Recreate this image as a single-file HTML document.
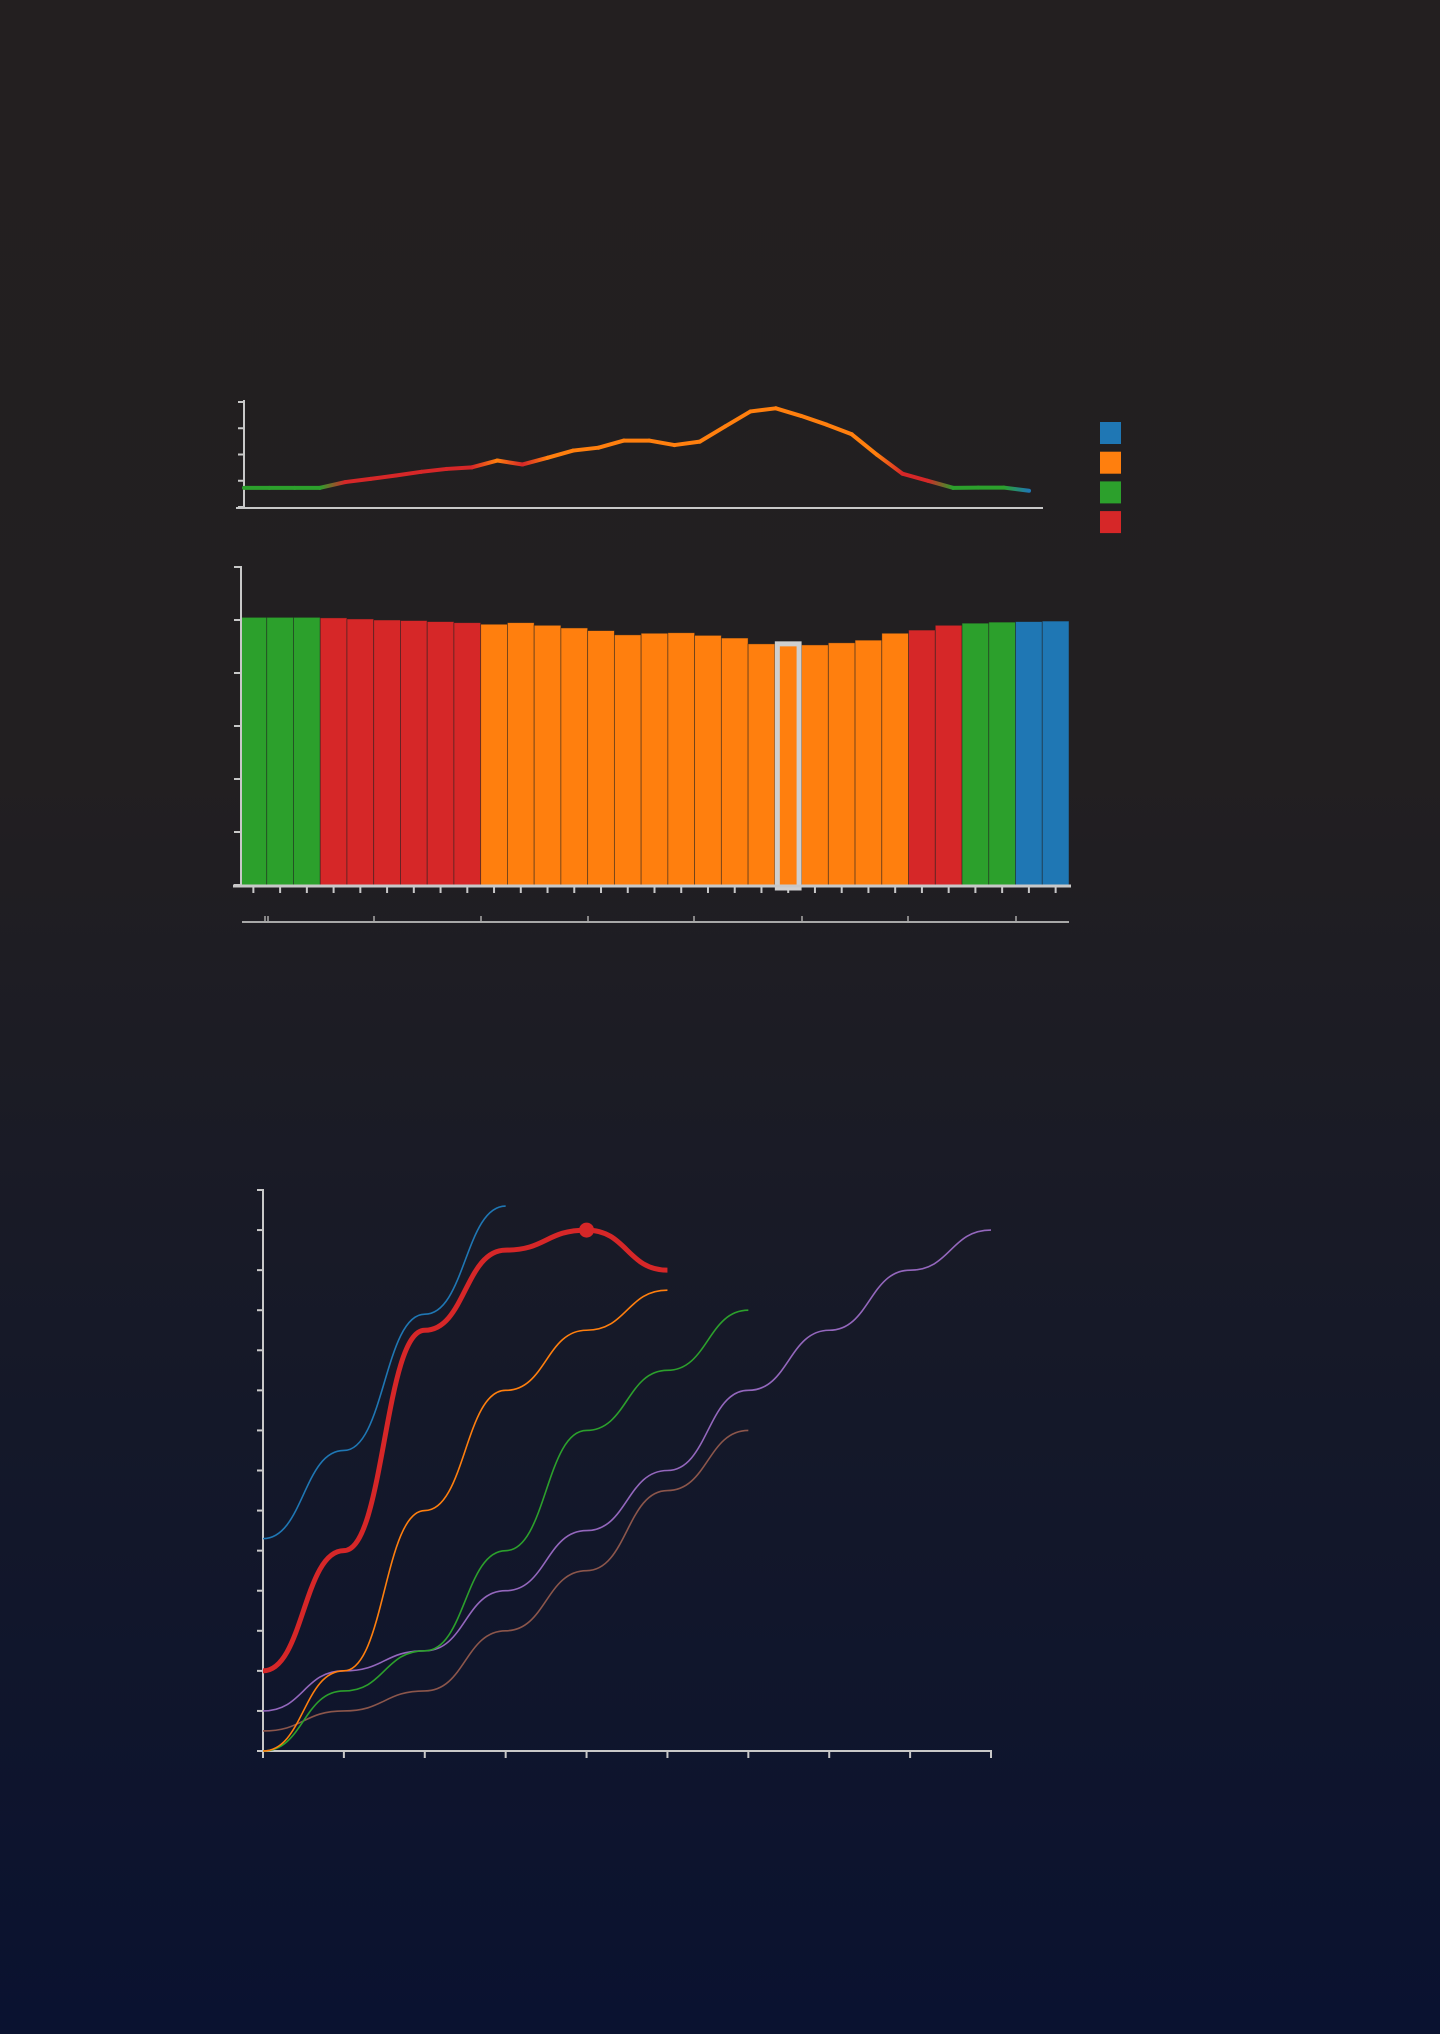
<!DOCTYPE html>
<html><head><meta charset="utf-8"><style>
html,body{margin:0;padding:0}
body{width:1440px;height:2034px;background:linear-gradient(#231f20 0%,#221f21 38%,#141829 70%,#0a1230 100%);font-family:"Liberation Sans",sans-serif;overflow:hidden}
svg{position:absolute;left:0;top:0}
</style></head><body>
<svg id="chart" width="1440" height="2034"></svg>
<script>
// ---- line chart data ----
const lineValues=[0.73,0.73,0.73,0.73,0.95,1.07,1.2,1.34,1.45,1.51,1.77,1.62,1.88,2.15,2.26,2.53,2.53,2.36,2.49,3.07,3.64,3.76,3.47,3.14,2.77,1.99,1.27,1.0,0.73,0.74,0.74,0.62];
const lineCats=["g","g","g","g","r","r","r","r","r","r","o","r","o","o","o","o","o","o","o","o","o","o","o","o","o","o","r","r","g","g","g","b"];
const lineTicks=[0,1,2,3,4];
// ---- bar chart data ----
const barValues=[5.05,5.05,5.05,5.04,5.02,5.0,4.99,4.97,4.95,4.92,4.95,4.9,4.85,4.8,4.72,4.75,4.76,4.71,4.66,4.55,4.55,4.53,4.57,4.62,4.75,4.81,4.9,4.94,4.96,4.97,4.98];
const barCats=["g","g","g","r","r","r","r","r","r","o","o","o","o","o","o","o","o","o","o","o","o","o","o","o","o","r","r","g","g","b","b"];
const barTicks=[0,1,2,3,4,5,6];
const highlightIndex=20;
const legendCats=["b","o","g","r"];
// ---- curve chart data ----
const curveBlue=[5.3,7.5,10.9,13.6];
const curveRed=[2.0,5.0,10.5,12.5,13.0,12.0];
const curveOrange=[0,2.0,6.0,9.0,10.5,11.5];
const curveGreen=[0,1.5,2.5,5.0,8.0,9.5,11.0];
const curvePurple=[1.0,2.0,2.5,4.0,5.5,7.0,9.0,10.5,12.0,13.0];
const curveBrown=[0.5,1.0,1.5,3.0,4.5,6.5,8.0];
const curveXTicks=[0,1,2,3,4,5,6,7,8,9];
const curveYTicks=[0,1,2,3,4,5,6,7,8,9,10,11,12,13,14];
const redPeakIndex=4;

const COL={b:"#1f77b4",o:"#ff7f0e",g:"#2ca02c",r:"#d62728"};
const NS="http://www.w3.org/2000/svg";
const svg=document.getElementById("chart");
function mk(tag,attrs,parent){const e=document.createElementNS(NS,tag);for(const k in attrs)e.setAttribute(k,attrs[k]);(parent||svg).appendChild(e);return e;}
const AX="#c8c8c8";
const defs=mk("defs",{});

// ===== line chart =====
const g1=mk("g",{});


const lx=i=>244+i*(1029-244)/(lineValues.length-1);
const ly=v=>507-v*(507-402)/4;
const yax1=mk("line",{x1:244,y1:400,x2:244,y2:508,stroke:AX,"stroke-width":2},g1);


lineTicks.forEach(t=>{const tk=mk("line",{x1:238,x2:244,y1:ly(t),y2:ly(t),stroke:AX,"stroke-width":2},g1);

});
const xax1=mk("line",{x1:236,y1:508,x2:1043,y2:508,stroke:AX,"stroke-width":2},g1);


for(let i=0;i<lineValues.length-1;i++){
  const id="lg"+i;
  const gr=mk("linearGradient",{id:id,gradientUnits:"userSpaceOnUse",x1:lx(i),y1:0,x2:lx(i+1),y2:0},defs);
  mk("stop",{offset:"0",["stop-color"]:COL[lineCats[i]]},gr);
  mk("stop",{offset:"1",["stop-color"]:COL[lineCats[i+1]]},gr);
  const seg=mk("line",{x1:lx(i),y1:ly(lineValues[i]),x2:lx(i+1),y2:ly(lineValues[i+1]),stroke:"url(#"+id+")","stroke-width":4,"stroke-linecap":"round"},g1);
  
  
}
legendCats.forEach((c,i)=>{const r=mk("rect",{x:1100,y:422+i*29.7,width:21,height:22,fill:COL[c]},g1);

});

// ===== bar chart =====
const g2=mk("g",{});


const bx0=240,bx1=1069,bw=(bx1-bx0)/barValues.length;
const by=v=>885-v*(885-567)/6;
barValues.forEach((v,i)=>{
  const r=mk("rect",{x:bx0+i*bw,y:by(v),width:bw,height:885-by(v),fill:COL[barCats[i]],stroke:"#222","stroke-width":0.8,"stroke-opacity":0.6},g2);
  
  
  const t=mk("line",{x1:bx0+(i+0.5)*bw,x2:bx0+(i+0.5)*bw,y1:886,y2:893,stroke:AX,"stroke-width":2},g2);
  
  
});
const hv=barValues[highlightIndex];
const hl=mk("rect",{x:bx0+highlightIndex*bw+2.5,y:by(hv),width:bw-5,height:885-by(hv)+3,fill:"none",stroke:"#cfcfcf","stroke-width":5},g2);


const yax2=mk("line",{x1:241,y1:566,x2:241,y2:886,stroke:AX,"stroke-width":2},g2);


barTicks.forEach(t=>{const tk=mk("line",{x1:234,x2:241,y1:by(t),y2:by(t),stroke:AX,"stroke-width":2},g2);

});
const xax2=mk("line",{x1:233,y1:886,x2:1071,y2:886,stroke:AX,"stroke-width":3},g2);


const brush=mk("line",{x1:242,y1:922,x2:1069,y2:922,stroke:"#a8a8a8","stroke-width":2},g2);


[265,268,374,481,588,694,802,908,1016].forEach(x=>{const tk=mk("line",{x1:x,x2:x,y1:916,y2:922,stroke:"#a8a8a8","stroke-width":1.5},g2);

});

// ===== curve chart =====
const g3=mk("g",{});


const cx=i=>263+i*(991-263)/9;
const cy=v=>1751-v*(1751-1190)/14;
const yax3=mk("line",{x1:263,y1:1189,x2:263,y2:1752,stroke:AX,"stroke-width":2},g3);


curveYTicks.forEach(t=>{const tk=mk("line",{x1:257,x2:263,y1:cy(t),y2:cy(t),stroke:AX,"stroke-width":2},g3);

});
const xax3=mk("line",{x1:262,y1:1751,x2:992,y2:1751,stroke:AX,"stroke-width":2},g3);


curveXTicks.forEach(t=>{const tk=mk("line",{x1:cx(t),x2:cx(t),y1:1751,y2:1758,stroke:AX,"stroke-width":2},g3);

});
function bump(arr){let d="M"+cx(0)+","+cy(arr[0]);for(let i=1;i<arr.length;i++){const xa=cx(i-1),xb=cx(i),m=(xa+xb)/2;d+=" C"+m+","+cy(arr[i-1])+" "+m+","+cy(arr[i])+" "+xb+","+cy(arr[i]);}return d;}
[["curve-brown",curveBrown,"#8c564b",1.6],["curve-purple",curvePurple,"#9467bd",1.6],["curve-green",curveGreen,"#2ca02c",1.6],["curve-orange",curveOrange,"#ff7f0e",1.6],["curve-blue",curveBlue,"#1f77b4",1.6],["curve-red-highlight",curveRed,"#d62728",5]].forEach(s=>{
  const p=mk("path",{d:bump(s[1]),fill:"none",stroke:s[2],"stroke-width":s[3]},g3);
  
  
});
const dot=mk("circle",{cx:cx(redPeakIndex),cy:cy(curveRed[redPeakIndex]),r:7.5,fill:"#d62728"},g3);


</script>
</body></html>
